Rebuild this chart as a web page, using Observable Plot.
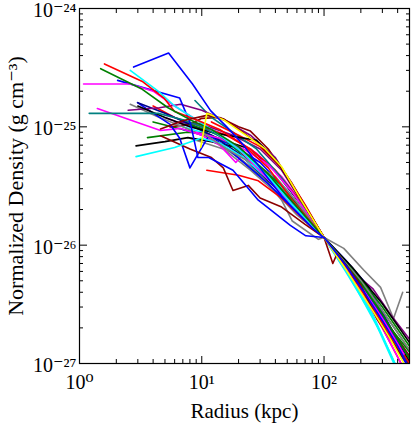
<!DOCTYPE html>
<html><head><meta charset="utf-8">
<script src="https://cdn.jsdelivr.net/npm/d3@7"></script>
<script src="https://cdn.jsdelivr.net/npm/@observablehq/plot@0.6"></script>
<style>body{margin:0;background:#fff} svg{display:block} svg text{font-family:'Liberation Serif','DejaVu Serif',serif !important}</style>
</head><body><div id="chart"></div>
<script>
const xTicks = [1, 10, 100];
const xTickLabels = ["10⁰", "10¹", "10²"];
const xMinorTicks = [2,3,4,5,6,7,8,9,20,30,40,50,60,70,80,90,200,300,400,500];
const yTicks = [1e-27, 1e-26, 1e-25, 1e-24];
const yTickLabels = ["10⁻²⁷", "10⁻²⁶", "10⁻²⁵", "10⁻²⁴"];
const yMinorTicks = [2e-27,3e-27,4e-27,5e-27,6e-27,7e-27,8e-27,9e-27,2e-26,3e-26,4e-26,5e-26,6e-26,7e-26,8e-26,9e-26,2e-25,3e-25,4e-25,5e-25,6e-25,7e-25,8e-25,9e-25];
const xLabel = "Radius (kpc)";
const yLabel = "Normalized Density (g cm⁻³)";

const profileColors = [
  "#808080","#008000","#000000","#ff00ff","#008080","#ff0000","#800080","#00ffff",
  "#0000ff","#8b0000","#808080","#008000","#000000","#ff00ff","#ff0000","#008080",
  "#0000ff","#00008b","#800080","#8b0000","#ff0000","#008000","#00ffff","#ff00ff",
  "#000000","#008080","#808080","#0000ff","#ff00ff","#00ffff","#ff0000","#008000",
  "#8b0000","#ffff00","#0000ff"
];
const profiles = [
  [[8,8e-26],[15,6.5e-26],[25,4.3e-26],[40,2.8e-26],[60,1.8e-26],[100,1.16e-26],[200,4.8e-27],[350,2e-27],[500,1.05e-27]],
  [[4,1.1e-25],[7,9.5e-26],[11,8.3e-26],[18,6e-26],[25,4.5e-26],[40,3.1e-26],[65,1.9e-26],[100,1.16e-26],[200,5e-27],[300,2.8e-27],[500,1.3e-27]],
  [[10,9e-26],[16,7.5e-26],[25,6.5e-26],[40,4.2e-26],[65,2.2e-26],[100,1.16e-26],[200,4.4e-27],[300,2.2e-27],[500,1e-27]],
  [[5,1.2e-25],[8,1.0e-25],[12,9.5e-26],[18,8e-26],[28,6e-26],[45,3.8e-26],[70,2.1e-26],[100,1.16e-26],[200,4.3e-27],[300,2.2e-27],[480,1.0e-27]],
  [[7,1.1e-25],[12,8.5e-26],[20,6.5e-26],[28,4.2e-26],[40,3.4e-26],[65,2e-26],[100,1.16e-26],[200,4.6e-27],[400,1.5e-27],[500,1.1e-27]],
  [[4,1.5e-25],[6,1.2e-25],[10,1.0e-25],[16,8.5e-26],[25,6.5e-26],[40,4.3e-26],[65,2.3e-26],[100,1.16e-26],[190,4.7e-27],[300,2.2e-27],[480,1.0e-27]],
  [[6,1.1e-25],[10,1.05e-25],[18,8.5e-26],[30,6.5e-26],[45,4.3e-26],[70,2.1e-26],[100,1.16e-26],[200,4.7e-27],[320,2.3e-27],[500,1.15e-27]],
  [[6,1.05e-25],[10,9e-26],[15,7.5e-26],[25,5.5e-26],[40,3.5e-26],[65,2.0e-26],[100,1.16e-26],[170,5e-27],[300,1.7e-27],[380,1e-27],[420,8e-28]],
  [[7,9.5e-26],[11,8.5e-26],[18,7e-26],[30,5e-26],[50,2.9e-26],[75,1.7e-26],[100,1.16e-26],[150,7.5e-27],[230,4.5e-27],[300,2.7e-27],[500,1.05e-27]],
  [[5.5,1.0e-25],[8,1.05e-25],[10,1.18e-25],[14,1.2e-25],[20,1.0e-25],[25,9.2e-26],[35,6.5e-26],[55,3.3e-26],[100,1.16e-26],[200,4.6e-27],[300,2.5e-27],[500,1.15e-27]],
  [[2.6,1.55e-25],[4.5,1.2e-25],[7,1.0e-25],[10,8.5e-26],[14,7e-26],[20,5.5e-26],[30,4e-26],[45,2.4e-26],[55,1.6e-26],[90,1.12e-26],[100,1.16e-26],[145,9.4e-27],[210,6.2e-27],[290,4.4e-27],[370,2.4e-27],[440,4e-27]],
  [[3.6,8.1e-26],[7.6,9e-26],[11,8.8e-26],[16,7.5e-26],[22,6e-26],[35,3.7e-26],[60,2e-26],[100,1.16e-26],[160,6.5e-27],[250,3.6e-27],[350,2e-27],[500,1.25e-27]],
  [[2.9,6.9e-26],[5,7.5e-26],[7.7,8.1e-26],[12,7.5e-26],[18,6.8e-26],[25,5.5e-26],[40,3.3e-26],[60,2.0e-26],[100,1.16e-26],[200,4.6e-27],[300,2.4e-27],[500,1.05e-27]],
  [[1.4,1.43e-25],[4.6,9.3e-26],[6.7,9.7e-26],[10,8.5e-26],[14,7e-26],[19,5.0e-26],[22,6e-26],[30,4.5e-26],[50,2.5e-26],[100,1.16e-26],[200,4.4e-27],[300,2.3e-27],[450,1.2e-27]],
  [[11,4.3e-26],[20,3.9e-26],[29,3.5e-26],[45,2.5e-26],[70,1.6e-26],[100,1.16e-26],[200,4.5e-27],[300,2.3e-27],[500,1.0e-27]],
  [[8.8,1.67e-25],[12,1.2e-25],[18,9e-26],[28,6.5e-26],[45,3.7e-26],[70,2e-26],[100,1.16e-26],[200,4.8e-27],[300,2.5e-27],[500,1.1e-27]],
  [[2.98,1.6e-25],[5.5,1.05e-25],[6.6,8.0e-26],[8.0,4.5e-26],[11.5,8.5e-26],[15,7e-26],[22,5e-26],[35,3.3e-26],[60,1.9e-26],[100,1.16e-26],[200,4.2e-27],[300,2.2e-27],[420,1.2e-27],[500,9e-28]],
  [[3,1.6e-25],[5,1.3e-25],[8,1.05e-25],[12,8.5e-26],[20,6e-26],[35,3.5e-26],[60,2e-26],[100,1.16e-26],[200,4.4e-27],[300,2.3e-27],[480,1.0e-27]],
  [[2.5,1.38e-25],[4.5,1.45e-25],[6.7,1.55e-25],[10,1.38e-25],[15,1.15e-25],[25,8.5e-26],[40,5.5e-26],[60,2.8e-26],[100,1.16e-26],[170,6.0e-27],[250,4.3e-27],[350,2.6e-27],[500,1.6e-27]],
  [[4.6,8.4e-26],[8,6.5e-26],[12,5.5e-26],[15,4.5e-26],[18,2.9e-26],[24,3.2e-26],[30,2.5e-26],[45,2.1e-26],[70,1.5e-26],[100,1.16e-26],[200,4.6e-27],[240,3.3e-27],[300,2.6e-27],[500,1.1e-27]],
  [[12,1.1e-25],[20,8.5e-26],[30,6.8e-26],[45,4.5e-26],[70,2.2e-26],[100,1.16e-26],[220,3.6e-27],[300,2e-27],[450,9e-28]],
  [[8,1.05e-25],[14,8.5e-26],[20,6.2e-26],[30,4.6e-26],[45,3.2e-26],[70,1.8e-26],[100,1.16e-26],[180,6e-27],[300,3e-27],[500,1.4e-27]],
  [[2.9,5.6e-26],[6,6.7e-26],[9.8,8e-26],[14,7.3e-26],[22,5.5e-26],[35,3.6e-26],[60,2e-26],[100,1.16e-26],[150,6e-27],[250,2.5e-27],[400,8.5e-28]],
  [[9,9e-26],[14,8e-26],[22,6.5e-26],[35,4.8e-26],[55,2.8e-26],[100,1.16e-26],[200,4e-27],[300,2e-27],[450,9e-28]],
  [[3,1.5e-25],[5,1.2e-25],[8,1.0e-25],[12,9.0e-26],[18,8.3e-26],[28,7.7e-26],[42,5e-26],[65,2.4e-26],[100,1.16e-26],[170,6.5e-27],[300,3.2e-27],[500,1.5e-27]],
  [[1.2,1.3e-25],[4.4,1.3e-25],[7,1.15e-25],[10,1.0e-25],[15,8e-26],[25,5.3e-26],[40,3.3e-26],[65,1.9e-26],[100,1.16e-26],[200,4.6e-27],[300,2.4e-27],[480,1.0e-27]],
  [[10,9.0e-26],[16,6.5e-26],[25,5e-26],[40,3.8e-26],[60,2.3e-26],[100,1.16e-26],[200,5e-27],[300,2.8e-27],[500,1.3e-27]],
  [[2.05,2.47e-25],[6.6,1.75e-25],[8.1,1.06e-25],[9.3,5.5e-26],[11.4,5.5e-26],[18,4.3e-26],[29,2.4e-26],[53,1.47e-26],[71,1.2e-26],[100,1.16e-26],[120,9e-27],[200,4.5e-27],[300,2.5e-27],[450,1.2e-27]],
  [[1.08,2.3e-25],[2.6,2.3e-25],[4,2.0e-25],[6,1.5e-25],[9,1.15e-25],[13,9e-26],[20,6.5e-26],[35,3.6e-26],[60,2e-26],[100,1.16e-26],[200,4.5e-27],[300,2.4e-27],[450,1.2e-27]],
  [[2.6,3.0e-25],[4.4,2.0e-25],[6,1.5e-25],[9,1.15e-25],[14,8.5e-26],[22,6e-26],[35,3.8e-26],[55,2.2e-26],[100,1.16e-26],[150,6.2e-27],[250,2.6e-27],[380,1.0e-27],[420,8e-28]],
  [[1.6,3.4e-25],[3.3,2.4e-25],[4.9,1.75e-25],[6,1.35e-25],[9,1.15e-25],[14,9.5e-26],[22,7e-26],[35,4.5e-26],[55,2.4e-26],[100,1.16e-26],[180,5.2e-27],[300,2.2e-27],[450,1.1e-27]],
  [[1.49,3.1e-25],[3.2,2.1e-25],[5.3,1.45e-25],[8,1.15e-25],[12,9.5e-26],[20,6.8e-26],[35,4e-26],[60,2.1e-26],[100,1.16e-26],[200,4.8e-27],[300,2.6e-27],[500,1.1e-27]],
  [[4.6,9.6e-26],[7.1,1.13e-25],[11,1.25e-25],[15,1.17e-25],[21,9.2e-26],[30,7e-26],[45,4.5e-26],[65,2.4e-26],[100,1.16e-26],[118,7.0e-27],[128,8.5e-27],[200,4.6e-27],[270,2.4e-27],[400,1.3e-27],[520,9e-28]],
  [[9.8,6.7e-26],[11,1.3e-25],[15,1.15e-25],[25,8e-26],[33,6.5e-26],[45,4.6e-26],[65,2.4e-26],[100,1.16e-26],[150,6.3e-27],[250,2.8e-27],[350,1.6e-27],[450,1.0e-27]],
  [[2.77,3.2e-25],[5.35,4.2e-25],[8.4,2.3e-25],[11.8,1.37e-25],[16,1.0e-25],[22,7.0e-26],[30,4.5e-26],[45,2.6e-26],[60,1.9e-26],[80,1.4e-26],[100,1.16e-26],[150,6.8e-27],[220,3.8e-27],[300,2.3e-27],[400,1.4e-27],[500,9e-28]]
];

const rows = profiles.flatMap((pts, i) => pts.map(([r, rho]) => ({id: i, color: profileColors[i], r, rho})));
const blank = () => "";
const xFmt = d => xTickLabels[xTicks.indexOf(d)];
const yFmt = d => yTickLabels[yTicks.indexOf(d)];
const serif = "'Liberation Serif', serif";

const chart = Plot.plot({
  width: 415, height: 429,
  marginLeft: 79, marginRight: 6, marginTop: 8, marginBottom: 66,
  x: {type: "log", domain: [1, 500]},
  y: {type: "log", domain: [1e-27, 1e-24]},
  color: {type: "identity"},
  style: {fontFamily: serif, fontSize: "16px", color: "#000", background: "#fff"},
  marks: [
    Plot.line(rows, {x: "r", y: "rho", z: "id", stroke: "color", strokeWidth: 1.6, clip: true}),
    Plot.frame({stroke: "#000", strokeWidth: 1.2}),
    Plot.axisX(xTicks, {anchor: "bottom", tickSize: -7, tickFormat: blank, label: null}),
    Plot.axisX(xMinorTicks, {anchor: "bottom", tickSize: -4, tickFormat: blank, label: null}),
    Plot.axisX(xTicks, {anchor: "top", tickSize: -7, tickFormat: blank, label: null}),
    Plot.axisX(xMinorTicks, {anchor: "top", tickSize: -4, tickFormat: blank, label: null}),
    Plot.axisY(yTicks, {anchor: "left", tickSize: -8, tickFormat: blank, label: null}),
    Plot.axisY(yMinorTicks, {anchor: "left", tickSize: -4, tickFormat: blank, label: null}),
    Plot.axisY(yTicks, {anchor: "right", tickSize: -8, tickFormat: blank, label: null}),
    Plot.axisY(yMinorTicks, {anchor: "right", tickSize: -4, tickFormat: blank, label: null}),
    Plot.axisX(xTicks, {anchor: "bottom", tickSize: 0, tickPadding: 11, tickFormat: xFmt, label: null, fontSize: 20, fontFamily: serif}),
    Plot.axisY(yTicks, {anchor: "left", tickSize: 0, tickPadding: 3, tickFormat: yFmt, label: null, fontSize: 20, fontFamily: serif, dy: 2}),
    Plot.text([xLabel], {frameAnchor: "bottom", dy: 54, fontSize: 21, fontFamily: serif}),
    Plot.text([yLabel], {frameAnchor: "left", dx: -64, rotate: -90, textAnchor: "middle", fontSize: 22, fontFamily: serif})
  ]
});
document.getElementById("chart").appendChild(chart);
</script>
</body></html>
